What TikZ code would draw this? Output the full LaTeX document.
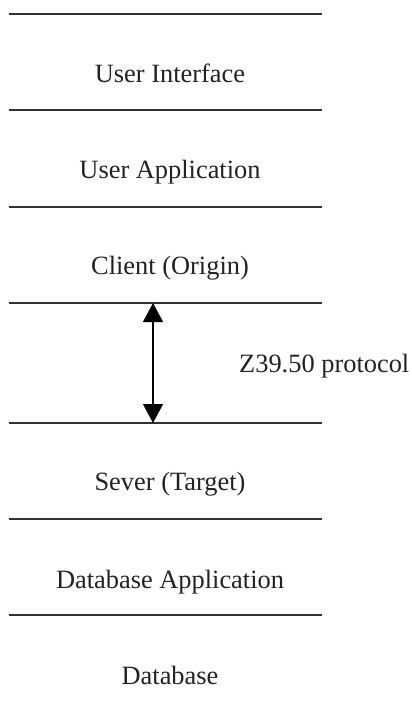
\documentclass[tikz,border=0pt]{standalone}
\usepackage{fontspec}
\setmainfont{Liberation Serif}
\usetikzlibrary{arrows.meta}
\definecolor{linec}{HTML}{333333}
\definecolor{textc}{HTML}{222222}
\tikzset{
  layerline/.style={draw=linec, line width=2pt},
  layertext/.style={anchor=base, inner sep=0pt, text=textc, font=\fontsize{26.4}{30}\selectfont},
  protoarrow/.style={draw=black, line width=1.3pt, {Triangle[width=20pt,length=19pt]}-{Triangle[width=20pt,length=19pt]}}
}
\begin{document}
\begin{tikzpicture}[x=1pt,y=-1pt]
\useasboundingbox (0,0) rectangle (412,709);
% layer boundary coordinates
\foreach \n/\y in {l1/14,l2/110,l3/207,l4/303,l5/423,l6/519,l7/615}{
  \coordinate (\n a) at (8.7,\y);
  \coordinate (\n b) at (321.7,\y);
}
\foreach \n in {l1,l2,l3,l4,l5,l6,l7}{
  \draw[layerline] (\n a) -- (\n b);
}
\node[layertext] (ui) at (170,82.5) {User Interface};
\node[layertext] (ua) at (170,178.5) {User Application};
\node[layertext] (cl) at (170,274) {Client (Origin)};
\node[layertext] (sv) at (170,490) {Sever (Target)};
\node[layertext] (da) at (170,588) {Database Application};
\node[layertext] (db) at (170,684) {Database};
\coordinate (atop) at (153,303);
\coordinate (abot) at (153,423);
\draw[protoarrow] (atop) -- (abot);
\node[layertext, anchor=base west] (zp) at (239,372.5) {Z39.50 protocol};
\end{tikzpicture}
\end{document}
